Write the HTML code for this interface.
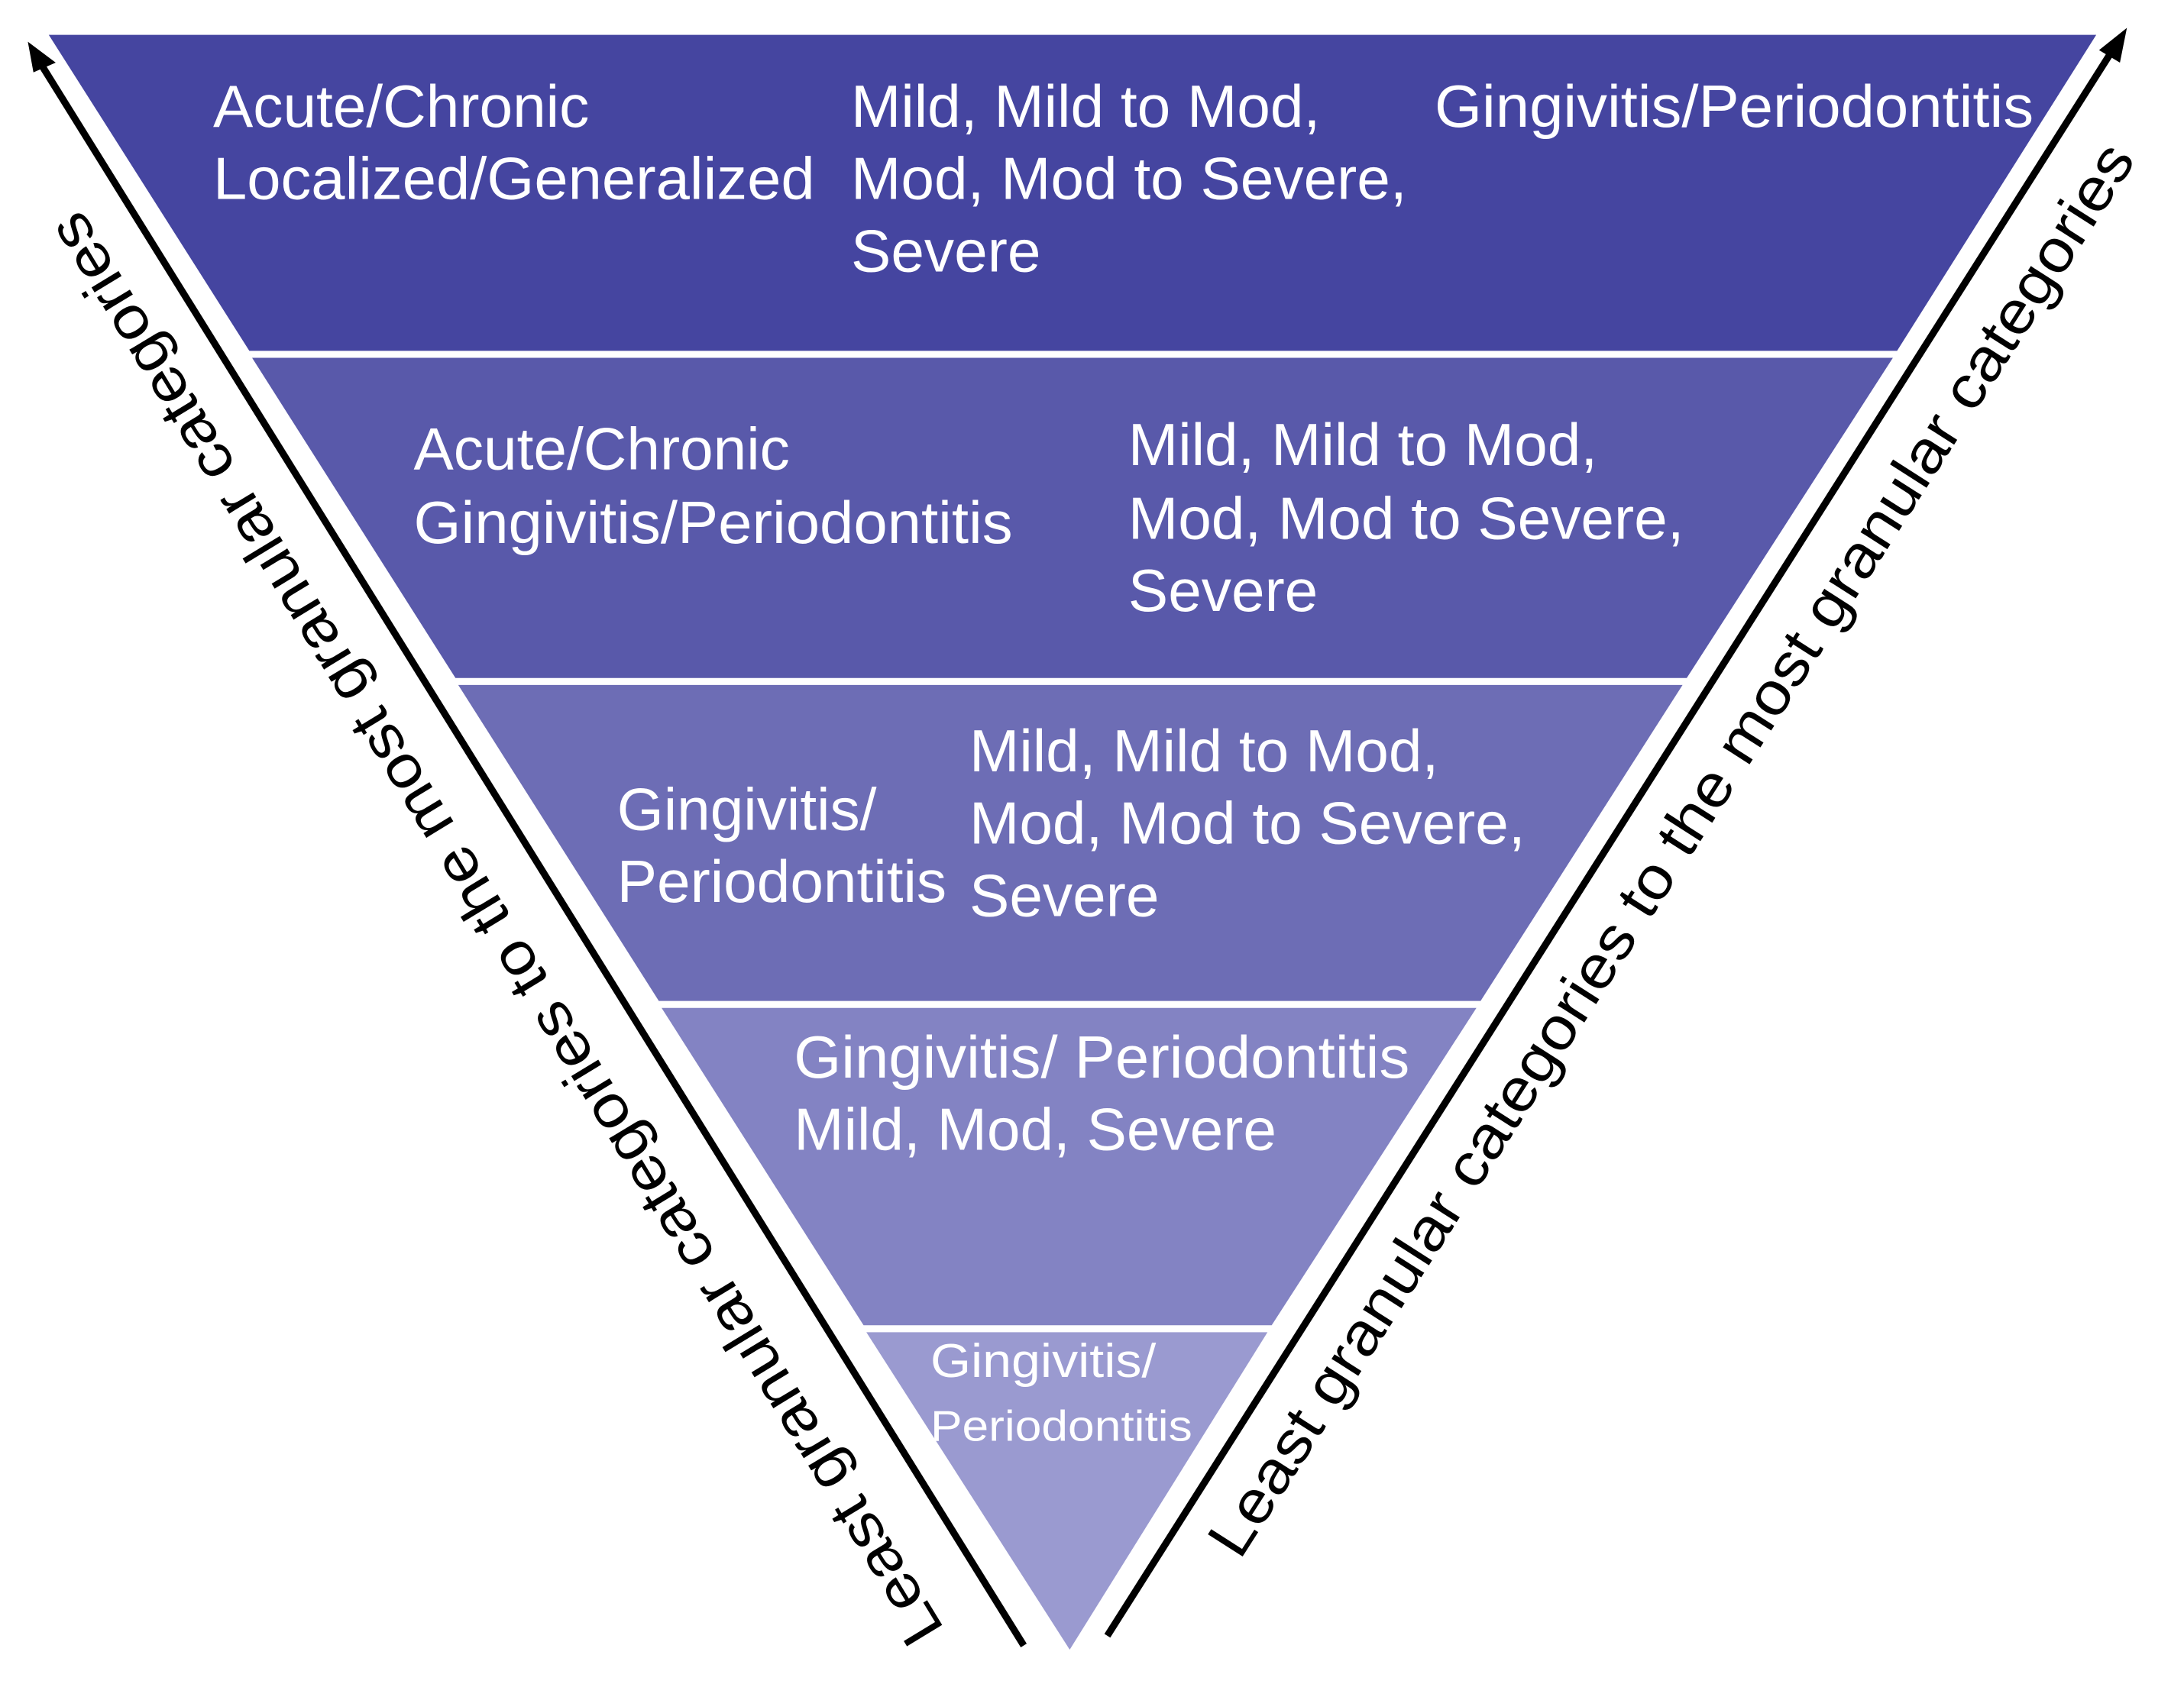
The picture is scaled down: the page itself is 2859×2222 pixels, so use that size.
<!DOCTYPE html>
<html><head><meta charset="utf-8"><style>
html,body{margin:0;padding:0;background:#fff}
svg{display:block}
text{font-family:"Liberation Sans",Arial,sans-serif;fill:#fff}
</style></head><body>
<svg width="2859" height="2222" viewBox="0 0 1568 1219" preserveAspectRatio="none" xmlns="http://www.w3.org/2000/svg">
<rect width="1568" height="1219" fill="#fff"/>
<polygon points="35,25 1505,25 1362,252 179,252" fill="#4545a0"/>
<polygon points="181,257 1359,257 1211,487 327,487" fill="#5959aa"/>
<polygon points="329,492 1208,492 1063,719 473,719" fill="#6d6db5"/>
<polygon points="475,724 1060,724 913,952 620,952" fill="#8383c3"/>
<polygon points="622,957 910,957 768,1185" fill="#9a9ad0"/>
<line x1="735" y1="1182" x2="30" y2="47" stroke="#000" stroke-width="5"/>
<polygon points="20,30 40,45 24,52" fill="#000"/>
<line x1="795" y1="1175" x2="1518" y2="34" stroke="#000" stroke-width="5"/>
<polygon points="1527,20 1522,45 1507,36" fill="#000"/>
<g font-size="43">
<text x="153" y="91">Acute/Chronic</text>
<text x="153" y="143" textLength="432" lengthAdjust="spacingAndGlyphs">Localized/Generalized</text>
<text x="611" y="91">Mild, Mild to Mod,</text>
<text x="611" y="143">Mod, Mod to Severe,</text>
<text x="611" y="195">Severe</text>
<text x="1030" y="91" textLength="430" lengthAdjust="spacingAndGlyphs">Gingivitis/Periodontitis</text>
<text x="297" y="337">Acute/Chronic</text>
<text x="297" y="390" textLength="430" lengthAdjust="spacingAndGlyphs">Gingivitis/Periodontitis</text>
<text x="810" y="334">Mild, Mild to Mod,</text>
<text x="810" y="387">Mod, Mod to Severe,</text>
<text x="810" y="439">Severe</text>
<text x="443" y="596">Gingivitis/</text>
<text x="443" y="648">Periodontitis</text>
<text x="696" y="554">Mild, Mild to Mod,</text>
<text x="696" y="606">Mod, Mod to Severe,</text>
<text x="696" y="658">Severe</text>
<text x="570" y="774" textLength="442" lengthAdjust="spacingAndGlyphs">Gingivitis/ Periodontitis</text>
<text x="570" y="826">Mild, Mod, Severe</text>
</g>
<text x="668" y="989" font-size="34" textLength="162" lengthAdjust="spacingAndGlyphs">Gingivitis/</text>
<text x="668" y="1035" font-size="31" textLength="188" lengthAdjust="spacingAndGlyphs">Periodontitis</text>
<text transform="translate(368,660) rotate(-121.3)" text-anchor="middle" font-size="43" textLength="1195" lengthAdjust="spacingAndGlyphs" style="fill:#000">Least granular categories to the most granular categories</text>
<text transform="translate(1212,618) rotate(-57.4)" text-anchor="middle" font-size="43" textLength="1195" lengthAdjust="spacingAndGlyphs" style="fill:#000">Least granular categories to the most granular categories</text>
</svg>
</body></html>
